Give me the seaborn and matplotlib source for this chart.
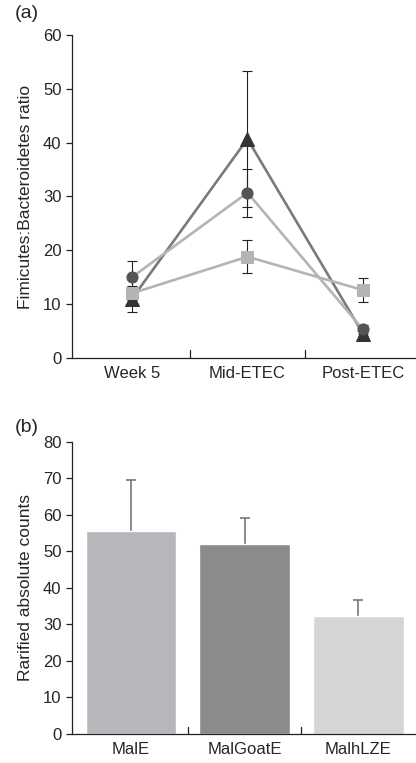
import matplotlib
matplotlib.use("Agg")
import matplotlib.pyplot as plt
import seaborn as sns
import pandas as pd
import numpy as np

# ---- data panel (a)
timepoints = ["Week 5", "Mid-ETEC", "Post-ETEC"]
circle_vals = [15.0, 30.7, 5.3]
circle_err = [3.0, 4.5, 0.8]
triangle_vals = [11.0, 40.7, 4.5]
triangle_err = [2.4, 12.7, 0.5]
square_vals = [12.0, 18.8, 12.6]
square_err = [1.2, 3.1, 2.3]

# ---- data panel (b)
groups = ["MalE", "MalGoatE", "MalhLZE"]
counts = [55.6, 52.1, 32.4]
counts_err = [13.8, 6.9, 4.4]
bar_colors = ["#b6b7ba", "#8a8b8d", "#d4d5d7"]

sns.set_style("ticks")
plt.rcParams['font.family'] = ['Liberation Sans', 'DejaVu Sans']
plt.rcParams['font.size'] = 12

fig = plt.figure(figsize=(4.16, 7.63), dpi=100)
axa = fig.add_axes([0.173, 0.531, 0.827, 0.423])
axb = fig.add_axes([0.173, 0.038, 0.827, 0.383])

series = [
    ("triangle", triangle_vals, triangle_err, "^", "#7a7a7a", "#333333", 10),
    ("circle", circle_vals, circle_err, "o", "#b4b4b4", "#555555", 8),
    ("square", square_vals, square_err, "s", "#b4b4b4", "#b4b4b4", 8),
]
xpos = np.arange(len(timepoints))
for name, vals, err, mk, lc, mc, ms in series:
    axa.errorbar(xpos, vals, yerr=err, fmt="none", ecolor="#222222",
                 elinewidth=0.8, capsize=3.3, capthick=0.8, zorder=1)
for name, vals, err, mk, lc, mc, ms in series:
    df = pd.DataFrame({"x": xpos, "y": vals})
    sns.lineplot(data=df, x="x", y="y", ax=axa, color=lc, linewidth=1.9,
                 marker=mk, markersize=ms, markerfacecolor=mc,
                 markeredgecolor=mc, zorder=2)

axa.set_xlim(-0.52, 2.46)
axa.set_ylim(0, 60)
axa.set_yticks(range(0, 61, 10))
axa.set_xticks(xpos)
axa.set_xticklabels(timepoints)
axa.tick_params(axis="x", length=0, pad=6)
for xv in [0.5, 1.5]:
    axa.plot([xv, xv], [0, 1.5], color="#222222", lw=0.9, clip_on=False)
axa.set_xlabel("")
axa.set_ylabel("Fimicutes:Bacteroidetes ratio", fontsize=12.5, labelpad=7)
sns.despine(ax=axa)
fig.text(0.035, 0.982, "(a)", fontsize=14, ha="left", va="center")

# panel (b)
dfb = pd.DataFrame({"group": groups, "count": counts})
sns.barplot(data=dfb, x="group", y="count", hue="group", palette=bar_colors,
            ax=axb, width=0.8, legend=False, errorbar=None, saturation=1,
            zorder=2)
eb = axb.errorbar(np.arange(len(groups)), counts, yerr=[np.zeros(3), counts_err],
                  fmt="none", ecolor="#777777", elinewidth=1.2, capsize=3.3,
                  capthick=1.2, zorder=1)
eb[1][0].set_visible(False)
axb.set_xlim(-0.52, 2.51)
axb.set_ylim(0, 80)
axb.set_yticks(range(0, 81, 10))
axb.tick_params(axis="x", length=0, pad=6)
for xv in [0.5, 1.5]:
    axb.plot([xv, xv], [0, 2.0], color="#222222", lw=0.9, clip_on=False)
axb.set_xlabel("")
axb.set_ylabel("Rarified absolute counts", fontsize=12.5, labelpad=7)
sns.despine(ax=axb)
fig.text(0.035, 0.44, "(b)", fontsize=14, ha="left", va="center")

for ax in (axa, axb):
    for s in ax.spines.values():
        s.set_color("#222222")
        s.set_linewidth(0.9)
    ax.tick_params(axis="y", color="#222222", length=4, width=0.9)

fig.savefig("out.png", dpi=100)
